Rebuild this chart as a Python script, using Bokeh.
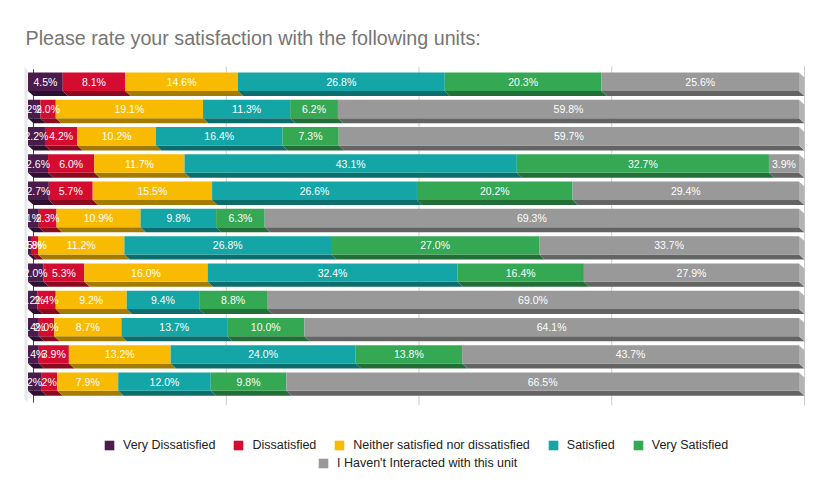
from bokeh.plotting import figure
from bokeh.models import ColumnDataSource, Range1d, Label, Legend, LegendItem
from bokeh.embed import file_html
from bokeh.resources import INLINE
from bokeh.core.properties import value

title_text = "Please rate your satisfaction with the following units:"
series = ["Very Dissatisfied", "Dissatisfied", "Neither satisfied nor dissatisfied",
          "Satisfied", "Very Satisfied", "I Haven't Interacted with this unit"]

very_dissatisfied = [4.5, 1.6, 2.2, 2.6, 2.7, 1.4, 0.5, 2.0, 1.2, 1.4, 1.4, 1.7]
dissatisfied = [8.1, 2.0, 4.2, 6.0, 5.7, 2.3, 0.8, 5.3, 2.4, 2.0, 3.9, 2.1]
neither = [14.6, 19.1, 10.2, 11.7, 15.5, 10.9, 11.2, 16.0, 9.2, 8.7, 13.2, 7.9]
satisfied = [26.8, 11.3, 16.4, 43.1, 26.6, 9.8, 26.8, 32.4, 9.4, 13.7, 24.0, 12.0]
very_satisfied = [20.3, 6.2, 7.3, 32.7, 20.2, 6.3, 27.0, 16.4, 8.8, 10.0, 13.8, 9.8]
not_interacted = [25.6, 59.8, 59.7, 3.9, 29.4, 69.3, 33.7, 27.9, 69.0, 64.1, 43.7, 66.5]

# labels as printed on the chart (narrow segments show rounded labels)
very_dissatisfied_labels = ["4.5%", "2%", "2.2%", "2.6%", "2.7%", "1%", "0.5%", "2.0%",
                            "1.2%", "1.4%", "1.4%", "2%"]
dissatisfied_labels = ["8.1%", "2.0%", "4.2%", "6.0%", "5.7%", "2.3%", "0.8%", "5.3%",
                       "2.4%", "2.0%", "3.9%", "2%"]

grid_ticks = [0, 25, 50, 75, 100]

colors = ["#4a1b4b", "#d40c30", "#f8bb02", "#14a6a6", "#34a853", "#999999"]
dark_colors = ["#2d0f2f", "#8a0a20", "#a37b00", "#0d6d6d", "#236e37", "#646464"]
cap_color = "#b3b3b3"
wall_color = "#e8e8e8"

values = [very_dissatisfied, dissatisfied, neither, satisfied, very_satisfied, not_interacted]
n = len(very_dissatisfied)
totals = [sum(v[i] for v in values) for i in range(n)]
pct = [[v[i] / totals[i] * 100 for i in range(n)] for v in values]

labels = [very_dissatisfied_labels, dissatisfied_labels] + \
         [[f"{x:.1f}%" for x in v] for v in values[2:]]

# geometry of the 3D look (in data units)
D = 0.713   # horizontal depth offset
H = 0.337   # half height of front face
DY = 0.183  # depth of bottom face
TOP, BOTTOM = -0.557, 11.87  # vertical extent of plotting area

W, HT = 821, 488
p = figure(width=W, height=HT, output_backend="svg", toolbar_location=None,
           x_axis_location=None, y_axis_location=None,
           x_range=Range1d(-4.280, 102.205), y_range=Range1d(14.918, -2.978),
           min_border=0)
p.outline_line_color = None
p.background_fill_color = "white"
p.grid.visible = False

# gridlines and axis line
p.segment(x0=grid_ticks[1:], y0=[TOP] * 4, x1=grid_ticks[1:], y1=[BOTTOM] * 4,
          line_color="#cccccc", line_width=1)
p.segment(x0=[0], y0=[TOP + 0.1], x1=[0], y1=[BOTTOM - 0.1],
          line_color="#444444", line_width=1)

# left wall
p.patch(x=[-1.167, -0.778, -0.778, -1.167], y=[TOP, TOP + 0.15, BOTTOM - 0.1, BOTTOM - 0.25],
        fill_color=wall_color, line_color=None)

rows = list(range(n))
cum = [0.0] * n
face_renderers = []
for k, v in enumerate(pct):
    left = cum[:]
    right = [cum[i] + v[i] for i in range(n)]
    cum = right
    strip = ColumnDataSource(dict(
        xs=[[left[i] - D, right[i] - D, right[i], left[i]] for i in rows],
        ys=[[i + H, i + H, i + H + DY, i + H + DY] for i in rows]))
    p.patches("xs", "ys", source=strip, fill_color=dark_colors[k], line_color=None)
    face = ColumnDataSource(dict(left=[l - D for l in left], right=[r - D for r in right],
                                 top=[i - H for i in rows], bottom=[i + H for i in rows]))
    r = p.quad(left="left", right="right", top="top", bottom="bottom", source=face,
               fill_color=colors[k], line_color=None)
    face_renderers.append(r)

# right caps
caps = ColumnDataSource(dict(
    xs=[[cum[i] - D, cum[i], cum[i], cum[i] - D] for i in rows],
    ys=[[i - H, i - H + DY, i + H + DY, i + H] for i in rows]))
p.patches("xs", "ys", source=caps, fill_color=cap_color, line_color=None)

# value labels
cum = [0.0] * n
for k, v in enumerate(pct):
    mid = [cum[i] + v[i] / 2 - D for i in rows]
    cum = [cum[i] + v[i] for i in rows]
    src = ColumnDataSource(dict(x=mid, y=rows, t=labels[k]))
    p.text(x="x", y="y", text="t", source=src, text_color="white",
           text_font=value("Liberation Sans"), text_font_size="10.5px",
           text_align="center", text_baseline="middle")

p.add_layout(Label(x=25, y=HT - 37, x_units="screen", y_units="screen", text=title_text,
                   text_font="Liberation Sans", text_font_size="19.7px",
                   text_color="#757575", text_baseline="alphabetic"))

items = [LegendItem(label=series[k], renderers=[face_renderers[k]]) for k in range(6)]
common = dict(orientation="horizontal", glyph_width=12, glyph_height=12, label_standoff=8,
              spacing=17, padding=0, margin=0, border_line_color=None,
              background_fill_alpha=0, label_text_font="Liberation Sans",
              label_text_font_size="12.5px", label_text_color="#222222", label_height=16)
p.add_layout(Legend(items=items[:5], location=(103, HT - 453), **common))
p.add_layout(Legend(items=items[5:], location=(317, HT - 471), **common))

open("out.html", "w").write(file_html(p, INLINE))
